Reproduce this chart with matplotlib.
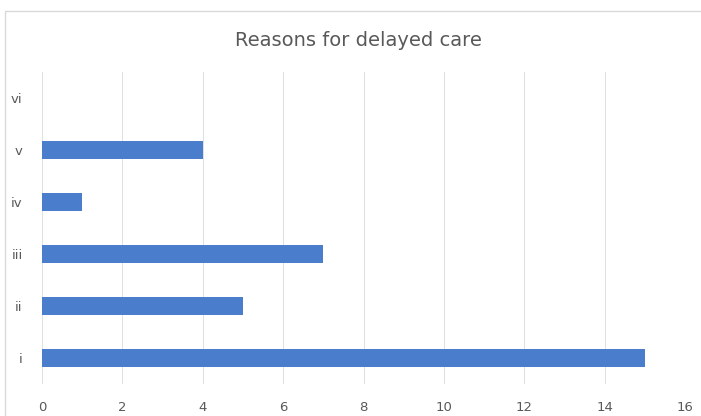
import matplotlib
matplotlib.use("Agg")
from matplotlib import pyplot as plt
from matplotlib.patches import Rectangle

# Data
categories = ["i", "ii", "iii", "iv", "v", "vi"]
values = [15, 5, 7, 1, 4, 0]
xticks = [0, 2, 4, 6, 8, 10, 12, 14, 16]

textColor = "#595959"
gridColor = "#dedede"
barColor = "#4a7dcc"

fig = plt.figure(figsize=(7.01, 4.16), dpi=100)
ax = fig.add_axes([42 / 701, 1 - 384 / 416, (685 - 42) / 701, (384 - 72) / 416])

# chart border, runs off the right and bottom edge
fig.patches.append(Rectangle((5 / 701, -0.1), 1.1, 1 - 11 / 416 + 0.1,
                             transform=fig.transFigure, fill=False,
                             edgecolor="#d9d9d9", linewidth=1))

ax.barh(range(len(categories)), values, height=0.35, color=barColor, zorder=3)
ax.set_xlim(0, 16)
ax.set_ylim(-0.5, len(categories) - 0.5)
ax.set_xticks(xticks)
ax.set_yticks(range(len(categories)))
ax.set_yticklabels(categories)
ax.grid(axis="x", color=gridColor, linewidth=0.7, zorder=0)
for s in ax.spines.values():
    s.set_visible(False)
ax.tick_params(length=0, colors=textColor, labelsize=9.5, pad=12)
ax.tick_params(axis="y", pad=14)

fig.text(358 / 701, 1 - 40 / 416, "Reasons for delayed care", ha="center", va="center",
         fontsize=14, color=textColor)

fig.savefig("out.png", dpi=100)
